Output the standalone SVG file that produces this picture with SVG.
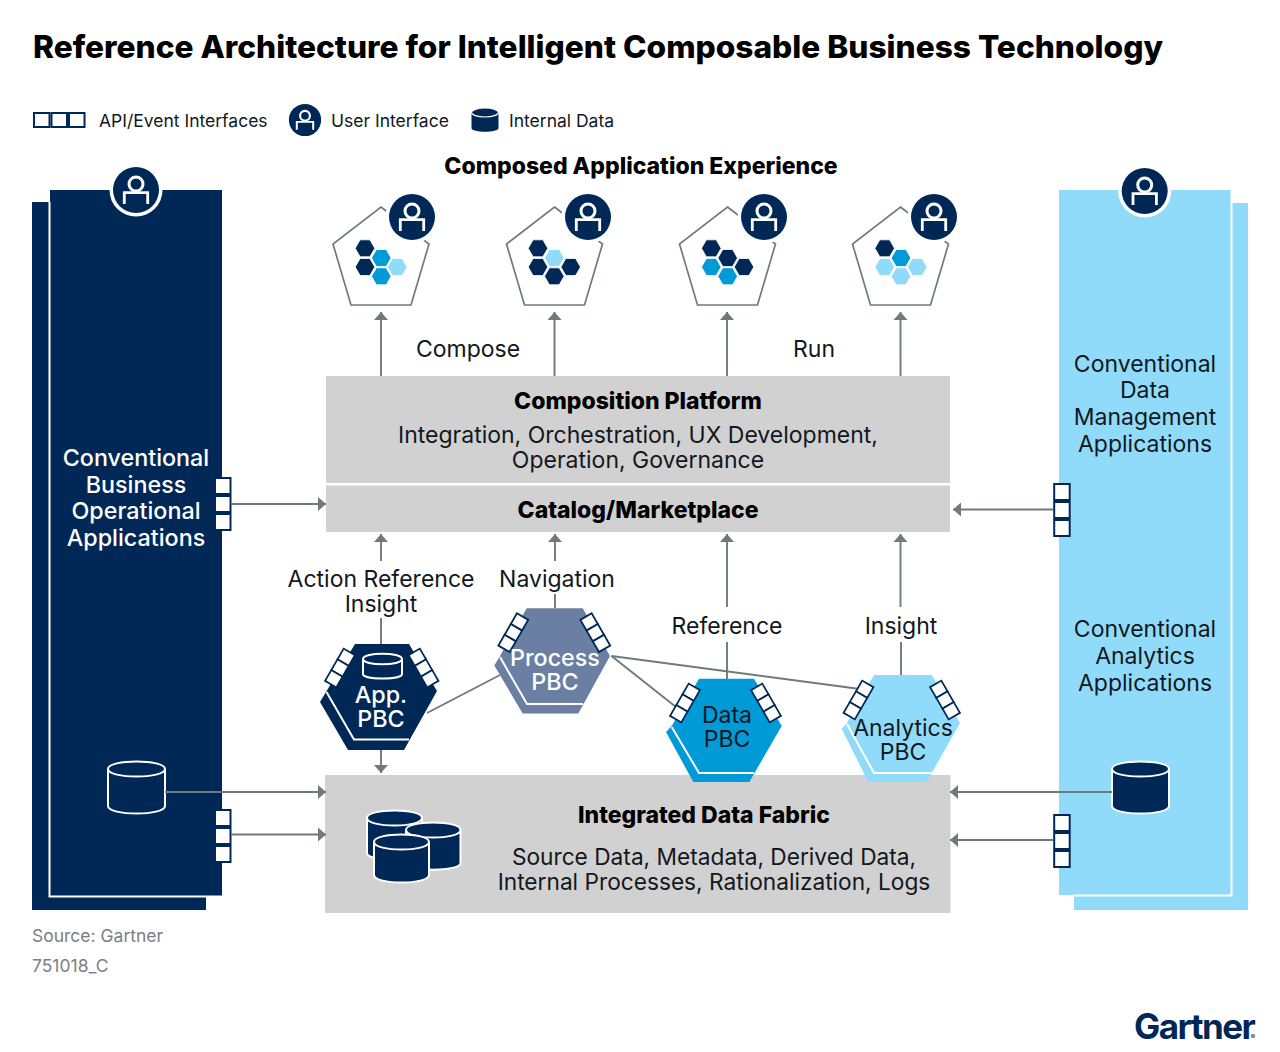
<svg xmlns="http://www.w3.org/2000/svg" width="1280" height="1052" viewBox="0 0 1280 1052">
<style>
text{font-family:Inter,"Liberation Sans",sans-serif;font-size:23px;fill:#111820;text-anchor:middle}
.b{font-weight:800;fill:#000}
.w{fill:#fff;font-weight:500;font-size:23.3px}
.lg{font-size:17.5px;text-anchor:start}
.src{font-size:17.5px;fill:#7a8080;text-anchor:start}
.c{stroke:#6f7b7b;stroke-width:1.9;fill:none}
.a{marker-end:url(#ah)}
.gray{fill:#d1d1d1}
.navy{fill:#002856}
.sky{fill:#91dbfa}
.cyan{fill:#009ad7}
.slate{fill:#6b7fa3}
.pent{fill:none;stroke:#6f7b7b;stroke-width:1.7}
.cyl{stroke:#fff;stroke-width:2}
.nl{stroke:#fff;stroke-width:2;fill:none}
.t{fill:#fff;stroke:#002856;stroke-width:2}
</style>
<defs>
<marker id="ah" markerUnits="userSpaceOnUse" markerWidth="9" markerHeight="15" refX="8" refY="7.500" orient="auto"><path d="M0,0.500 L8,7.500 L0,14.500 z" fill="#6f7b7b"/></marker>
<g id="user"><circle r="23" class="navy"/><circle cy="-6" r="7" fill="none" stroke="#fff" stroke-width="3"/><path d="M-11.700,14 V2.700 H11.700 V14" fill="none" stroke="#fff" stroke-width="2.800"/></g>
<g id="ring"><circle r="26.500" fill="#fff"/><use href="#user"/></g>
<g id="tab"><rect x="-7.500" y="-26" width="15.500" height="16" class="t"/><rect x="-7.500" y="-8" width="15.500" height="16" class="t"/><rect x="-7.500" y="10" width="15.500" height="16" class="t"/></g>
<g id="mtab"><rect x="-6.500" y="-18.600" width="13" height="12.400" fill="#fff" stroke="#002856" stroke-width="1.800"/><rect x="-6.500" y="-6.200" width="13" height="12.400" fill="#fff" stroke="#002856" stroke-width="1.800"/><rect x="-6.500" y="6.200" width="13" height="12.400" fill="#fff" stroke="#002856" stroke-width="1.800"/></g>
<path id="hx" d="M-9.800,0 L-4.900,-8.500 H4.900 L9.800,0 L4.900,8.500 H-4.900 z" stroke="#fff" stroke-width="0.800"/>
</defs>
<rect width="1280" height="1052" fill="#fff"/>
<text x="33" y="58" class="b" style="font-size:31.500px;text-anchor:start" textLength="1130" lengthAdjust="spacingAndGlyphs">Reference Architecture for Intelligent Composable Business Technology</text>
<g id="legend">
<rect x="34" y="113" width="15.500" height="14" class="t"/><rect x="51.500" y="113" width="15.500" height="14" class="t"/><rect x="69" y="113" width="15.500" height="14" class="t"/>
<text x="99" y="127" class="lg">API/Event Interfaces</text>
<use href="#user" transform="translate(305,120) scale(.7)"/>
<text x="331" y="127" class="lg">User Interface</text>
<path d="M471.500,113 v15 c0,5 27,5 27,0 v-15 z" class="navy"/><ellipse cx="485" cy="112.500" rx="13.500" ry="4.500" class="navy" stroke="#fff" stroke-width="1.200"/>
<text x="509" y="127" class="lg">Internal Data</text>
</g>
<text x="641" y="174" class="b">Composed Application Experience</text>
<g id="left-panel">
<rect x="32" y="202" width="174" height="708" class="navy"/>
<rect x="50" y="190" width="172" height="707" class="navy"/>
<path d="M49.500,202 V896.500 H222" class="nl"/>
<use href="#ring" x="136" y="190"/>
<text class="w"><tspan x="136" y="466">Conventional</tspan><tspan x="136" y="493">Business</tspan><tspan x="136" y="519">Operational</tspan><tspan x="136" y="546">Applications</tspan></text>
<path d="M108,769 V806 C108,816 165,816 165,806 V769 C165,759 108,759 108,769 C108,779 165,779 165,769" class="navy cyl"/>
<use href="#tab" x="222.500" y="504"/>
<use href="#tab" x="222.500" y="836"/>
</g>
<g id="right-panel">
<rect x="1074" y="203" width="174" height="707" class="sky"/>
<rect x="1059" y="190" width="172" height="705" class="sky"/>
<path d="M1231.500,190 V895.500 H1074" class="nl"/>
<use href="#ring" x="1144.700" y="191"/>
<text><tspan x="1145" y="372">Conventional</tspan><tspan x="1145" y="398">Data</tspan><tspan x="1145" y="425">Management</tspan><tspan x="1145" y="452">Applications</tspan></text>
<text><tspan x="1145" y="637">Conventional</tspan><tspan x="1145" y="664">Analytics</tspan><tspan x="1145" y="691">Applications</tspan></text>
<path d="M1112,769 V806 C1112,816 1169,816 1169,806 V769 C1169,759 1112,759 1112,769 C1112,779 1169,779 1169,769" class="navy cyl"/>
<use href="#tab" x="1061.700" y="510"/>
<use href="#tab" x="1061.700" y="841"/>
</g>
<g id="composition-platform"><rect x="326" y="376" width="624" height="107" class="gray"/>
<text x="638" y="409" class="b">Composition Platform</text><text><tspan x="638" y="443">Integration, Orchestration, UX Development,</tspan><tspan x="638" y="468">Operation, Governance</tspan></text></g>
<g id="catalog-marketplace"><rect x="326" y="485.500" width="624" height="46.500" class="gray"/><text x="638" y="518" class="b">Catalog/Marketplace</text></g>
<g id="data-fabric"><rect x="325" y="775" width="625.500" height="138" class="gray"/>
<text x="704" y="823" class="b">Integrated Data Fabric</text><text style="font-size:22.700px"><tspan x="714" y="865">Source Data, Metadata, Derived Data,</tspan><tspan x="714" y="890">Internal Processes, Rationalization, Logs</tspan></text>
<path d="M367,818 V853 C367,862 422,862 422,853 V818 C422,808 367,808 367,818 C367,828 422,828 422,818" class="navy cyl"/>
<path d="M406,830 V863 C406,872 460.500,872 460.500,863 V830 C460.500,820 406,820 406,830 C406,840 460.500,840 460.500,830" class="navy cyl"/>
<path d="M374,842 V875 C374,885 429,885 429,875 V842 C429,832 374,832 374,842 C374,852 429,852 429,842" class="navy cyl"/>
</g>
<g id="connectors">
<path class="c a" d="M381,376 V312"/><path class="c a" d="M554.500,376 V312"/><path class="c a" d="M727,376 V312"/><path class="c a" d="M900.500,376 V312"/>
<path class="c a" d="M381,561 V534"/><path class="c a" d="M555,561 V534"/><path class="c a" d="M727,607 V534"/><path class="c a" d="M900.500,607 V534"/>
<path class="c" d="M381,618 V644"/><path class="c" d="M555,594 V608"/><path class="c" d="M727,642 V680"/><path class="c" d="M901,642 V675"/>
<path class="c a" d="M381,750 V773"/>
<path class="c a" d="M231,504 H326"/><path class="c a" d="M165,792 H326"/><path class="c a" d="M231,834.500 H326"/>
<path class="c a" d="M1053,509.500 H953"/><path class="c a" d="M1112,792 H950"/><path class="c a" d="M1053,840 H950"/>
<path class="c" d="M427,713 L500,675"/><path class="c" d="M611.500,656 L676,707"/><path class="c" d="M611.500,656 L860,689"/>
</g>
<text x="468" y="357">Compose</text><text x="814" y="357">Run</text>
<text><tspan x="381" y="587">Action Reference</tspan><tspan x="381" y="612">Insight</tspan></text><text x="557" y="587">Navigation</text><text x="727" y="634">Reference</text><text x="901" y="634">Insight</text>
<g id="experience-1"><path class="pent" d="M381,207 L429,244 L411,305 H351 L333,244 z"/><use href="#ring" x="412" y="217"/>
<use href="#hx" class="navy" x="365" y="248.300"/><use href="#hx" class="cyan" x="381.300" y="258"/><use href="#hx" class="navy" x="365" y="267"/><use href="#hx" class="sky" x="397.300" y="267"/><use href="#hx" class="cyan" x="381.300" y="276.300"/></g>
<g id="experience-2"><path class="pent" d="M554.500,207 L602.500,244 L584.500,305 H524.500 L506.500,244 z"/><use href="#ring" x="588" y="217"/>
<use href="#hx" class="navy" x="538" y="248.300"/><use href="#hx" class="sky" x="554.300" y="258"/><use href="#hx" class="navy" x="538" y="267"/><use href="#hx" class="navy" x="570.700" y="267"/><use href="#hx" class="navy" x="554.300" y="276.300"/></g>
<g id="experience-3"><path class="pent" d="M727.500,207 L775.500,244 L757.500,305 H697.500 L679.500,244 z"/><use href="#ring" x="764" y="217"/>
<use href="#hx" class="navy" x="711.300" y="248.300"/><use href="#hx" class="navy" x="727.700" y="258"/><use href="#hx" class="cyan" x="711.300" y="267"/><use href="#hx" class="navy" x="744" y="267"/><use href="#hx" class="cyan" x="727.700" y="276.300"/></g>
<g id="experience-4"><path class="pent" d="M900.500,207 L948.500,244 L930.500,305 H870.500 L852.500,244 z"/><use href="#ring" x="934" y="217"/>
<use href="#hx" class="navy" x="884.700" y="248.300"/><use href="#hx" class="cyan" x="901" y="258"/><use href="#hx" class="sky" x="884.700" y="267"/><use href="#hx" class="sky" x="917.300" y="267"/><use href="#hx" class="sky" x="901" y="276.300"/></g>
<g id="app-pbc">
<path class="navy" d="M348,750 H404 L437,691 L409,644 H355 L326,692 L320,702 z"/>
<path class="nl" d="M326.500,692 L354,739.500 H409"/>
<path class="nl" d="M363,659 V674 C363,680 402,680 402,674 V659 C402,652 363,652 363,659 C363,666 402,666 402,659"/>
<use href="#mtab" transform="translate(340,668) rotate(30)"/><use href="#mtab" transform="translate(423.500,668) rotate(-30)"/>
<text class="w"><tspan x="381" y="703">App.</tspan><tspan x="381" y="727">PBC</tspan></text>
</g>
<g id="process-pbc">
<path class="slate" d="M522.700,713.500 H578.300 L610,656 L582.700,608.300 H526.700 L500,656 L494.300,665.500 z"/>
<path class="nl" d="M500,657 L527,704 H583"/>
<use href="#mtab" transform="translate(513.300,632.700) rotate(30)"/><use href="#mtab" transform="translate(595.300,632.700) rotate(-30)"/>
<text class="w"><tspan x="555" y="666">Process</tspan><tspan x="555" y="690">PBC</tspan></text>
</g>
<g id="data-pbc">
<path class="cyan" d="M693.300,782 H749.300 L781.700,726 L754,678.700 H699 L671.700,726 L666,732 z"/>
<path class="nl" d="M671.700,727 L699,773 H754"/>
<use href="#mtab" transform="translate(685,703) rotate(30)"/><use href="#mtab" transform="translate(766,703) rotate(-30)"/>
<text><tspan x="727" y="723">Data</tspan><tspan x="727" y="747">PBC</tspan></text>
</g>
<g id="analytics-pbc">
<path class="sky" d="M868.300,782 H926.700 L960,723 L931.700,675 H874 L847,723 L841.700,729 z"/>
<path class="nl" d="M847,724 L874,773 H931.700"/>
<use href="#mtab" transform="translate(858.500,700) rotate(30)"/><use href="#mtab" transform="translate(945,700) rotate(-30)"/>
<text><tspan x="903" y="736">Analytics</tspan><tspan x="903" y="760">PBC</tspan></text>
</g>
<text x="32" y="942" class="src">Source: Gartner</text><text x="32" y="972" class="src">751018_C</text>
<g id="gartner-logo"><text x="1134" y="1039" style="font-size:35px;font-weight:700;fill:#002856;text-anchor:start;letter-spacing:-1.600px">Gartner</text><circle cx="1253" cy="1036" r="2.300" fill="#7f93b2"/></g>
</svg>
